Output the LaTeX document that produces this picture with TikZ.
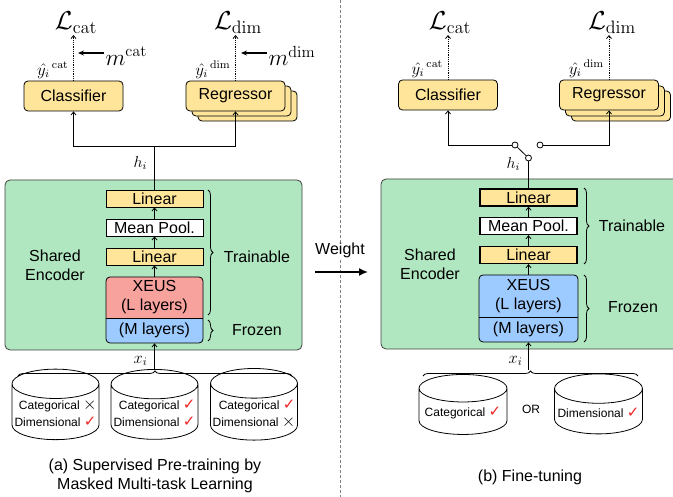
\documentclass[tikz,border=0pt]{standalone}
\usepackage[no-math]{fontspec}
\setmainfont{Liberation Sans}
\newfontfamily\symfont{DejaVu Sans}
\usepackage{amsmath}
\usetikzlibrary{positioning, arrows.meta, shapes.geometric, decorations.pathreplacing}
\definecolor{HeadYellow}{HTML}{FFE59A}
\definecolor{EncGreen}{HTML}{B0E7C0}
\definecolor{XeusRed}{HTML}{F8A29E}
\definecolor{XeusBlue}{HTML}{9DCBFF}
\definecolor{TickRed}{HTML}{F02525}
\newcommand{\tick}{\textcolor{TickRed}{\fontsize{15}{15}\selectfont\symfont ✓}}
\newcommand{\cross}{{\fontsize{17}{15}\selectfont$\times$}}

\begin{document}
\begin{tikzpicture}[x=1pt, y=-1pt, line width=0.8pt,
    >={Straight Barb[length=3pt,width=5pt]},
    head/.style={draw, rounded corners=4pt, fill=HeadYellow, minimum width=99pt,
        minimum height=30pt, inner sep=0pt, font=\fontsize{16}{19}\selectfont},
    layer/.style={draw, fill=HeadYellow, minimum width=97pt, minimum height=17pt,
        inner sep=0pt, font=\fontsize{16}{19}\selectfont},
    block/.style={minimum width=97pt, inner sep=0pt, align=center,
        font=\fontsize{16}{19}\selectfont},
    plain/.style={align=center, font=\fontsize{16}{19}\selectfont},
    loss/.style={anchor=south, inner sep=1pt, scale=1.25, font=\fontsize{20}{24}\selectfont},
    mlab/.style={anchor=west, inner sep=1pt, scale=1.12, font=\fontsize{20}{24}\selectfont},
    pred/.style={anchor=south east, inner sep=1pt, scale=1.4, font=\fontsize{12}{14}\selectfont},
    var/.style={anchor=east, inner sep=1pt, scale=1.15, font=\fontsize{14.4}{17}\selectfont},
    db/.style={cylinder, shape border rotate=90, draw, aspect=0.35, minimum width=87pt,
        minimum height=57pt, inner sep=1pt, align=right, font=\fontsize{12}{17}\selectfont},
    brc/.style={decorate, decoration={brace, amplitude=5pt}},
    sw/.style={circle, draw, fill=white, inner sep=0pt, minimum size=6pt},
    enc/.style={draw=black!75, fill=EncGreen, rounded corners=5pt, minimum height=170pt},
    mask/.style={-{Stealth[length=6pt,width=5pt]}, line width=1.1pt},
]
\clip (0,0) rectangle (673,497);
\useasboundingbox (0,0) rectangle (673,497);

% divider between (a) and (b)
\draw[gray, dash pattern=on 3pt off 2pt] (340,0) -- (340,497);

% ---------- (a) pre-training ----------
\node[enc, minimum width=297pt] (encl) at (153.5,265) {};
\node[plain] (sharedl) at (55,265) {Shared\\Encoder};

% heads
\node[head] (regc) at (247.5,106) {};
\node[head] (regb) at (241.5,101) {};
\node[head] (reg) at (235.5,96) {Regressor};
\node[head] (cls) at (73.5,96) {Classifier};

% losses
\node[loss] (lcat) at (76,35) {$\mathcal{L}_{\mathrm{cat}}$};
\node[loss] (ldim) at (238,35) {$\mathcal{L}_{\mathrm{dim}}$};
\draw[->, densely dotted] (cls.north) -- (cls.north |- lcat.south);
\draw[->, densely dotted] (reg.north) -- (reg.north |- ldim.south);
\node[pred] (ycat) at ([xshift=-3pt]cls.north) {$\hat{y_i}^{\,\mathrm{cat}}$};
\node[pred] (ydim) at ([xshift=-3pt]reg.north) {$\hat{y_i}^{\,\mathrm{dim}}$};
\node[mlab] (mcat) at (104,56) {$m^{\mathrm{cat}}$};
\node[mlab] (mdim) at (267,56) {$m^{\mathrm{dim}}$};
\draw[mask] ([yshift=3pt]mcat.west) -- ++(-26,0);
\draw[mask] ([yshift=3pt]mdim.west) -- ++(-26,0);

% encoder layers
\node[layer] (lin1) at (154.5,198.5) {Linear};
\node[layer, fill=white] (pool) at (154.5,227.5) {Mean Pool.};
\node[layer] (lin2) at (154.5,256.5) {Linear};
\fill[XeusBlue, rounded corners=4pt] (106,277) rectangle (203,343);
\fill[XeusRed, rounded corners=4pt] (106,277) rectangle (203,326);
\fill[XeusBlue] (106,318) rectangle (203,327);
\draw[rounded corners=4pt] (106,277) rectangle (203,343);
\draw (106,318) -- (203,318);
\node[block, minimum height=41pt] (xeus) at (154.5,297.5) {XEUS\\(L layers)};
\node[block, minimum height=25pt] (mlay) at (154.5,330.5) {(M layers)};
\draw[->] (xeus.north) -- (lin2.south);
\draw[->] (lin2.north) -- (pool.south);
\draw[->] (pool.north) -- (lin1.south);

\draw[brc] (208,190) -- (208,315);
\draw[brc] (208,320) -- (208,341);
\node[plain] (trainl) at (257,257) {Trainable};
\node[plain] (frozl) at (257,330) {Frozen};

% encoder to heads
\coordinate (spl) at (154.5,146);
\draw[line width=1.2pt] (lin1.north) -- (spl);
\draw[->] (spl) -| (cls.south);
\draw[->] (spl) -| (reg.south);
\node[var, scale=1.15, font=\fontsize{12}{14}\selectfont] (hl) at (149,163) {$h_i$};

% datasets
\draw[brc] (18,376) -- (292,376);
\coordinate (bl) at (154.5,370);
\draw[->] (bl) -- (mlay.south);
\node[var] (xl) at (149,361) {$x_i$};
\node[db] (d1) at (55.5,413.5) {Categorical \cross\\Dimensional \tick};
\node[db] (d2) at (154.5,413.5) {Categorical \tick\\Dimensional \tick};
\node[db] (d3) at (254,413.5) {Categorical \tick\\Dimensional \cross};
\node[plain] (capa) at (155,476) {(a) Supervised Pre-training by\\Masked Multi-task Learning};

% weight transfer
\node[plain, fill=white, inner sep=1pt] (wt) at (340,250) {Weight};
\coordinate (wfrom) at (315,272);
\coordinate (wto) at (368,272);
\draw[-{Latex[length=9pt,width=8pt]}, line width=1.6pt] (wfrom) -- (wto);

% ---------- (b) fine-tuning ----------
\node[enc, minimum width=310pt] (encr) at (536,264) {};
\node[plain] (sharedr) at (430,264) {Shared\\Encoder};

\node[head] (rregc) at (621,106) {};
\node[head] (rregb) at (615,101) {};
\node[head] (rreg) at (609,95) {Regressor};
\node[head] (rcls) at (448,95) {Classifier};

\node[loss] (rlcat) at (450,35) {$\mathcal{L}_{\mathrm{cat}}$};
\node[loss] (rldim) at (612,35) {$\mathcal{L}_{\mathrm{dim}}$};
\draw[->, densely dotted] (rcls.north) -- (rcls.north |- rlcat.south);
\draw[->, densely dotted] (rreg.north) -- (rreg.north |- rldim.south);
\node[pred] (rycat) at ([xshift=-3pt]rcls.north) {$\hat{y_i}^{\,\mathrm{cat}}$};
\node[pred] (rydim) at ([xshift=-3pt]rreg.north) {$\hat{y_i}^{\,\mathrm{dim}}$};

\node[layer, line width=1.3pt] (rlin1) at (528.5,197.5) {Linear};
\node[layer, line width=1.3pt, fill=white] (rpool) at (528.5,226) {Mean Pool.};
\node[layer, line width=1.3pt] (rlin2) at (528.5,255) {Linear};
\fill[XeusBlue, rounded corners=4pt] (479,275) rectangle (578,342);
\draw[rounded corners=4pt] (479,275) rectangle (578,342);
\draw (479,317) -- (578,317);
\node[block, minimum height=42pt] (rxeus) at (528.5,296) {XEUS\\(L layers)};
\node[block, minimum height=25pt] (rmlay) at (528.5,329.5) {(M layers)};
\draw[->] (rxeus.north) -- (rlin2.south);
\draw[->] (rlin2.north) -- (rpool.south);
\draw[->] (rpool.north) -- (rlin1.south);

\draw[brc] (584,188) -- (584,264);
\draw[brc] (584,275) -- (584,342);
\node[plain] (trainr) at (632,226) {Trainable};
\node[plain] (frozr) at (633,307) {Frozen};

% switch to heads
\node[sw] (swp) at (528.5,158) {};
\node[sw] (swl) at (515,145) {};
\node[sw] (swr) at (540,145) {};
\draw[line width=1.2pt] (rlin1.north) -- (swp.south);
\draw (swp) -- (swl);
\draw[->] (swl.west) -| (rcls.south);
\draw[->] (swr.east) -| (rreg.south);
\node[var, scale=1.15, font=\fontsize{12}{14}\selectfont] (hr) at (522,164) {$h_i$};

% datasets
\draw[brc] (423,376) -- (638,376);
\coordinate (br) at (528.5,370);
\draw[->] (br) -- (rmlay.south);
\node[var] (xr) at (524,361) {$x_i$};
\node[db, minimum width=88pt, minimum height=60pt] (d4) at (463,413) {Categorical \tick};
\node[plain, font=\fontsize{12}{14}\selectfont] (or) at (531,409) {OR};
\node[db, minimum width=88pt, minimum height=60pt] (d5) at (598.5,413) {Dimensional \tick};
\node[plain] (capb) at (530,477) {(b) Fine-tuning};
\end{tikzpicture}
\end{document}
